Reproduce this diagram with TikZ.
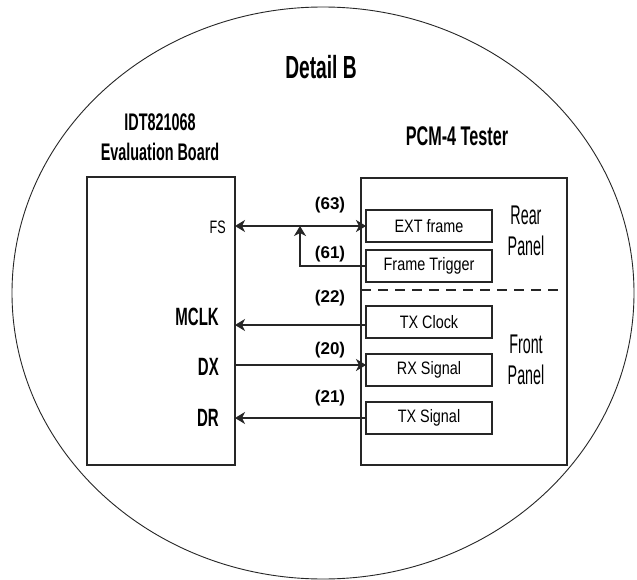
\documentclass[tikz,border=0pt]{standalone}
\usepackage{fontspec}
\setmainfont{Liberation Sans}
\newfontfamily\fA[FakeStretch=0.6]{Liberation Sans}
\newfontfamily\fB[FakeStretch=0.8]{Liberation Sans}
\newfontfamily\fC[FakeStretch=0.53]{Liberation Sans}
\newfontfamily\fD[FakeStretch=0.7]{Liberation Sans}
\usetikzlibrary{arrows.meta,calc}
\begin{document}
\begin{tikzpicture}[x=1pt,y=-1pt,
  frame/.style={draw=black!85, line width=1.4pt, inner sep=0pt, outer sep=0pt, anchor=north west},
  sub/.style={frame, minimum width=126pt, minimum height=32pt, font={\fB\fontsize{18}{18}\selectfont}},
  conn/.style={draw=black!85, line width=1.6pt},
  tip/.style={-{Stealth[length=10pt,width=12pt,inset=3pt]}},
  num/.style={font={\bfseries\fontsize{17}{17}\selectfont}, inner sep=0pt},
  head/.style={font={\fA\bfseries\fontsize{24}{30}\selectfont}, align=center, inner sep=0pt},
  pin/.style={anchor=east, inner sep=0pt},
  big/.style={pin, font={\fA\bfseries\fontsize{25}{25}\selectfont}},
  side/.style={font={\fC\fontsize{27}{31}\selectfont}, align=center, inner sep=0pt}
]
\useasboundingbox (0,0) rectangle (637,580);
\fill[white] (0,0) rectangle (637,580);
\draw[black!85, line width=0.9pt] (323,293) ellipse [x radius=311, y radius=286];

\node[font={\fA\bfseries\fontsize{32}{32}\selectfont}, inner sep=0pt] (title) at (321,67) {Detail B};
\node[head] (evh) at (160,137) {IDT821068\\Evaluation Board};
\node[head, font={\fA\bfseries\fontsize{27}{27}\selectfont}] (pch) at (457,136) {PCM-4 Tester};

\node[frame, minimum width=148pt, minimum height=288pt] (lb) at (87,177) {};
\node[frame, minimum width=206pt, minimum height=287pt] (rb) at (361,178) {};

\node[sub] (ext) at (366,210) {EXT frame};
\node[sub] (trig) at (366,250) {Frame Trigger};
\node[sub] (txc) at (366,306) {TX Clock};
\node[sub] (rxs) at (366,354) {RX Signal};
\node[sub] (txs) at (366,402) {TX Signal};

\coordinate (dl) at (361,290);
\coordinate (dre) at (563,290);
\draw[black!85, line width=1.4pt, dash pattern=on 10pt off 7pt] (dl) -- (dre);

\node[side] (rear) at (526,231) {Rear\\Panel};
\node[side] (front) at (526,360) {Front\\Panel};

\node[pin, font={\fD\fontsize{18}{18}\selectfont}] (fs) at (226,227) {FS};
\node[big] (mclk) at (219,317) {MCLK};
\node[big] (dx) at (219,367) {DX};
\node[big] (dr) at (219,418) {DR};

% connector end points
\coordinate (cE) at ([yshift=-3pt]txc.west);
\coordinate (rE) at ([yshift=5pt]rxs.west);
\coordinate (j) at (300,226);

% connectors
\draw[conn, {Stealth[length=10pt,width=12pt,inset=3pt]}-{Stealth[length=10pt,width=12pt,inset=3pt]}] (lb.east |- ext.west) -- (ext.west);
\draw[conn, tip] (trig.west) -| (j);
\draw[conn, tip] (cE) -- (lb.east |- cE);
\draw[conn, tip] (lb.east |- rE) -- (rE);
\draw[conn, tip] (txs.west) -- (lb.east |- txs.west);

\node[num] (n63) at (330,205) {(63)};
\node[num] (n61) at (330,254) {(61)};
\node[num] (n22) at (330,298) {(22)};
\node[num] (n20) at (330,350) {(20)};
\node[num] (n21) at (330,398) {(21)};
\end{tikzpicture}
\end{document}
